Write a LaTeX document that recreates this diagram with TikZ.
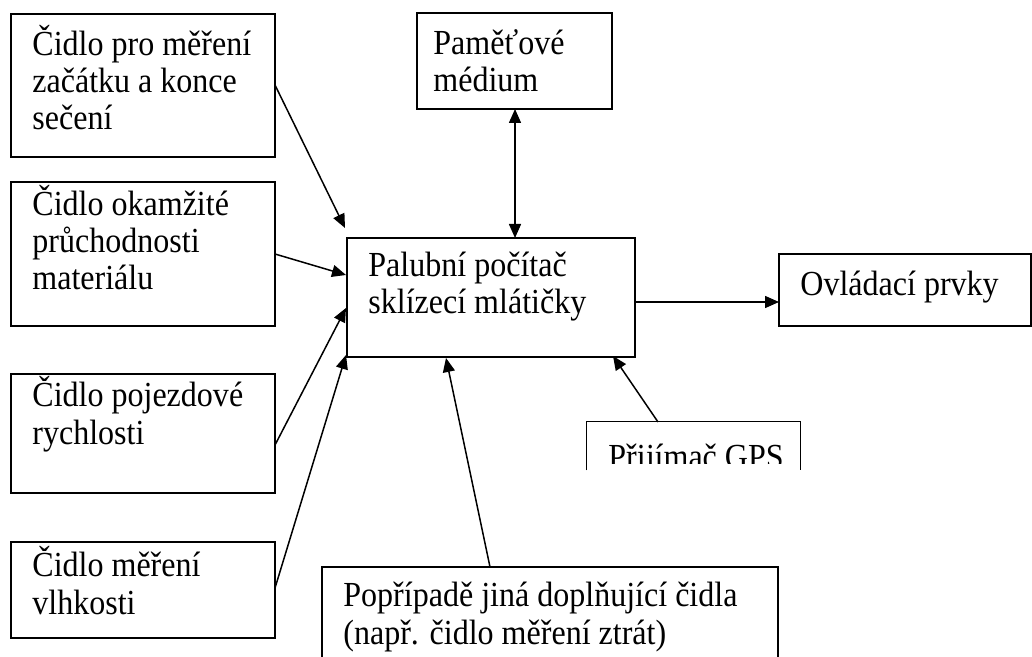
\documentclass[tikz,border=0pt]{standalone}
\usepackage{fontspec}
\setmainfont[FakeStretch=0.91]{Liberation Serif}
\usetikzlibrary{fit,arrows.meta}
\begin{document}
\begin{tikzpicture}[x=0.5pt,y=-0.5pt,
  box/.style={draw, line width=0.8pt, inner sep=0pt},
  frame/.style={inner sep=0pt},
  txt/.style={inner sep=0pt, align=left, font=\fontsize{17.6pt}{18.6pt}\selectfont},
  conn/.style={line width=0.75pt, -{Triangle[length=7pt,width=6pt]}},
  dconn/.style={line width=0.75pt, {Triangle[length=7pt,width=6pt]}-{Triangle[length=7pt,width=6pt]}}]
\useasboundingbox (0,0) rectangle (1032,657);
\fill[white] (0,0) rectangle (1032,657);
\clip (0,0) rectangle (1032,657);

% boxes
\node[box, fit={(11,14)(275,157)}] (b1) {};
\node[box, fit={(11,182)(275,326)}] (b2) {};
\node[box, fit={(11,374)(275,493)}] (b3) {};
\node[box, fit={(11,542)(275,638)}] (b4) {};
\node[box, fit={(347,238)(635,357)}] (cen) {};
\node[box, fit={(417,13)(612,109)}] (pam) {};
\node[box, fit={(779,254)(1031,326)}] (ovl) {};
\node[box, fit={(322,567)(778,670)}] (dop) {};
\node[frame, fit={(587,422)(800,470)}] (gps) {};
\draw[line width=0.8pt] (gps.south west) -- (gps.north west) -- (gps.north east) -- (gps.south east);

% texts (anchor = baseline of the last line)
\node[txt, anchor=base west] (t1) at (32,130) {Čidlo pro měření\\začátku a konce\\sečení};
\node[txt, anchor=base west] (t2) at (32,290) {Čidlo okamžité\\průchodnosti\\materiálu};
\node[txt, anchor=base west] (t3) at (32,444) {Čidlo pojezdové\\rychlosti};
\node[txt, anchor=base west] (t4) at (32,614) {Čidlo měření\\vlhkosti};
\node[txt, anchor=base west] (tc) at (368,314) {Palubní počítač\\sklízecí mlátičky};
\node[txt, anchor=base west] (tp) at (433,92) {Paměťové\\médium};
\node[txt, anchor=base west] (to) at (800,296) {Ovládací prvky};
\node[txt, anchor=base west] (td) at (343,644) {Popřípadě jiná doplňující čidla\\(např. čidlo měření ztrát)};
\begin{scope}
\clip (590,425) rectangle (797,463);
\node[txt, anchor=base west] (tg) at (608,468) {Přijímač GPS};
\end{scope}

% connector end points
\coordinate (s1) at (275,85);
\coordinate (e1) at (345,228);
\coordinate (s2) at (275,254);
\coordinate (e2) at (346,275);
\coordinate (s3) at (275,445);
\coordinate (e3) at (346,308);
\coordinate (s4) at (275,588);
\coordinate (e4) at (346,355);
\coordinate (so) at (635,302);
\coordinate (eo) at (779,302);
\coordinate (sg) at (658,422);
\coordinate (eg) at (613,356);
\coordinate (sd) at (490,567);
\coordinate (ed) at (446,358);
\coordinate (pt) at (515,109);
\coordinate (pb) at (515,238);

% connectors
\draw[conn] (s1) -- (e1);
\draw[conn] (s2) -- (e2);
\draw[conn] (s3) -- (e3);
\draw[conn] (s4) -- (e4);
\draw[dconn] (pt) -- (pb);
\draw[conn] (so) -- (eo);
\draw[conn] (sg) -- (eg);
\draw[conn] (sd) -- (ed);
\end{tikzpicture}
\end{document}
